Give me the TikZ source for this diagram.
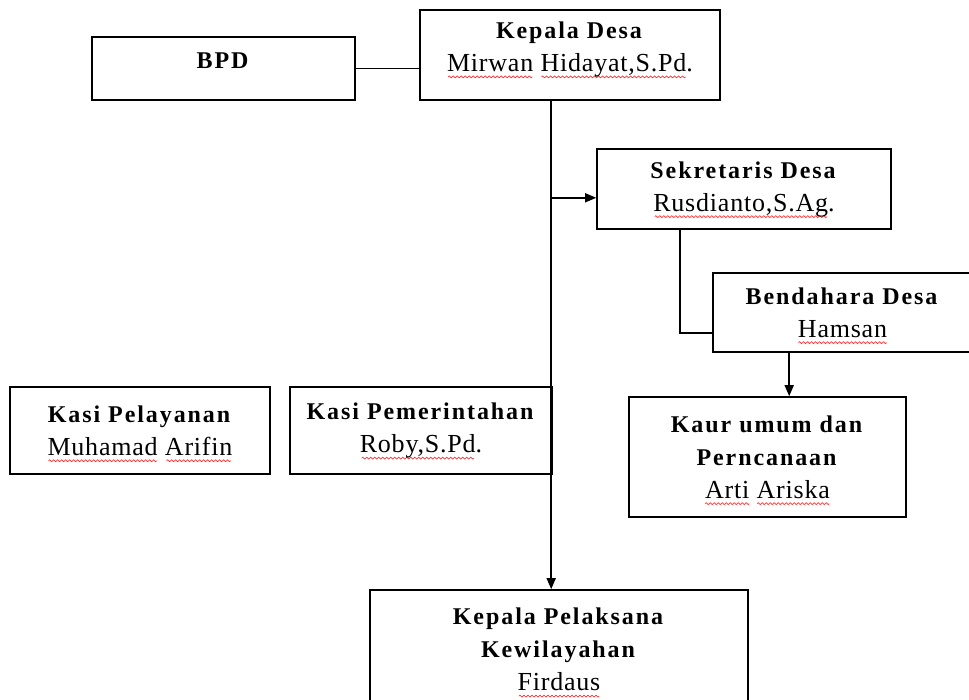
\documentclass[tikz,border=0pt]{standalone}
\usepackage{fontspec}
\setmainfont{Liberation Serif}[LetterSpace=3,BoldFeatures={LetterSpace=8}]
\usetikzlibrary{arrows.meta,calc}
\newsavebox\wavebox
\newsavebox\wordbox
\sbox\wavebox{\tikz[baseline=0pt]{\useasboundingbox (0pt,-1.2pt) rectangle (4pt,1.2pt);
  \draw[red!80!white,line width=0.7pt,line join=round] (0pt,0pt) -- (1pt,1pt) -- (3pt,-1pt) -- (4pt,0pt);}}
\newcommand\rsq[1]{\sbox\wordbox{#1}\leavevmode\rlap{\raisebox{-5.5pt}[0pt][0pt]{\hbox to\wd\wordbox{\cleaders\copy\wavebox\hfil}}}\usebox\wordbox}
\newcommand\nm[1]{{\fontsize{26}{33}\selectfont #1}}
\newcommand\dn[1]{\rule[-#1]{0pt}{#1}}
\begin{document}
\begin{tikzpicture}[x=1pt,y=-1pt,
 box/.style={draw,line width=1.6pt,align=center,inner sep=0pt,font=\fontsize{24}{33}\selectfont},
 conn/.style={line width=1.5pt},
 arr/.style={conn,-{Triangle[length=11pt,width=9pt]}}]
\useasboundingbox (0,0) rectangle (969,699);
\clip (0,0) rectangle (969,699);
\node[box,minimum width=263pt,minimum height=63pt] (bpd) at (223.5,68.5) {\textbf{BPD}\dn{15pt}};
\node[box,minimum width=300pt,minimum height=90pt] (kd) at (570,55) {\textbf{Kepala Desa}\\\nm{\rsq{Mirwan} \rsq{Hidayat,S.Pd}.}\dn{17pt}};
\node[box,minimum width=294pt,minimum height=80pt] (sek) at (744,189) {\textbf{Sekretaris Desa}\\\nm{\rsq{Rusdianto,S.Ag}.}};
\node[box,minimum width=259pt,minimum height=79pt] (ben) at (842.5,312.5) {\textbf{Bendahara Desa}\\\nm{\rsq{Hamsan}}};
\node[box,minimum width=277pt,minimum height=120pt] (kaur) at (767.5,457) {\textbf{Kaur umum dan}\\\textbf{Perncanaan}\\\nm{\rsq{Arti} \rsq{Ariska}}};
\node[box,minimum width=260pt,minimum height=87pt] (kpl) at (140,430.5) {\textbf{Kasi Pelayanan}\\\nm{\rsq{Muhamad} \rsq{Arifin}}};
\node[box,minimum width=262pt,minimum height=87pt] (kpm) at (421,430.5) {\textbf{Kasi Pemerintahan}\\\nm{\rsq{Roby,S.Pd}.}};
\node[box,minimum width=378pt,minimum height=119pt] (kpk) at (559,649.5) {\textbf{Kepala Pelaksana}\\\textbf{Kewilayahan}\\\nm{\rsq{Firdaus}}};
\coordinate (ttop) at ($(kd.south west)+(132,0)$);
\coordinate (tsek) at ($(ttop)+(0,97)$);
\coordinate (sdown) at ($(sek.south west)+(84,0)$);
\coordinate (bdown) at ($(ben.south west)+(77,0)$);
\draw[conn] (bpd.east) -- (bpd.east -| kd.west);
\draw[arr] (ttop) -- (ttop |- kpk.north);
\draw[arr] (tsek) -- (tsek -| sek.west);
\draw[conn] (sdown) |- ($(ben.west)+(0,20.5)$);
\draw[arr] (bdown) -- (bdown |- kaur.north);
\end{tikzpicture}
\end{document}
